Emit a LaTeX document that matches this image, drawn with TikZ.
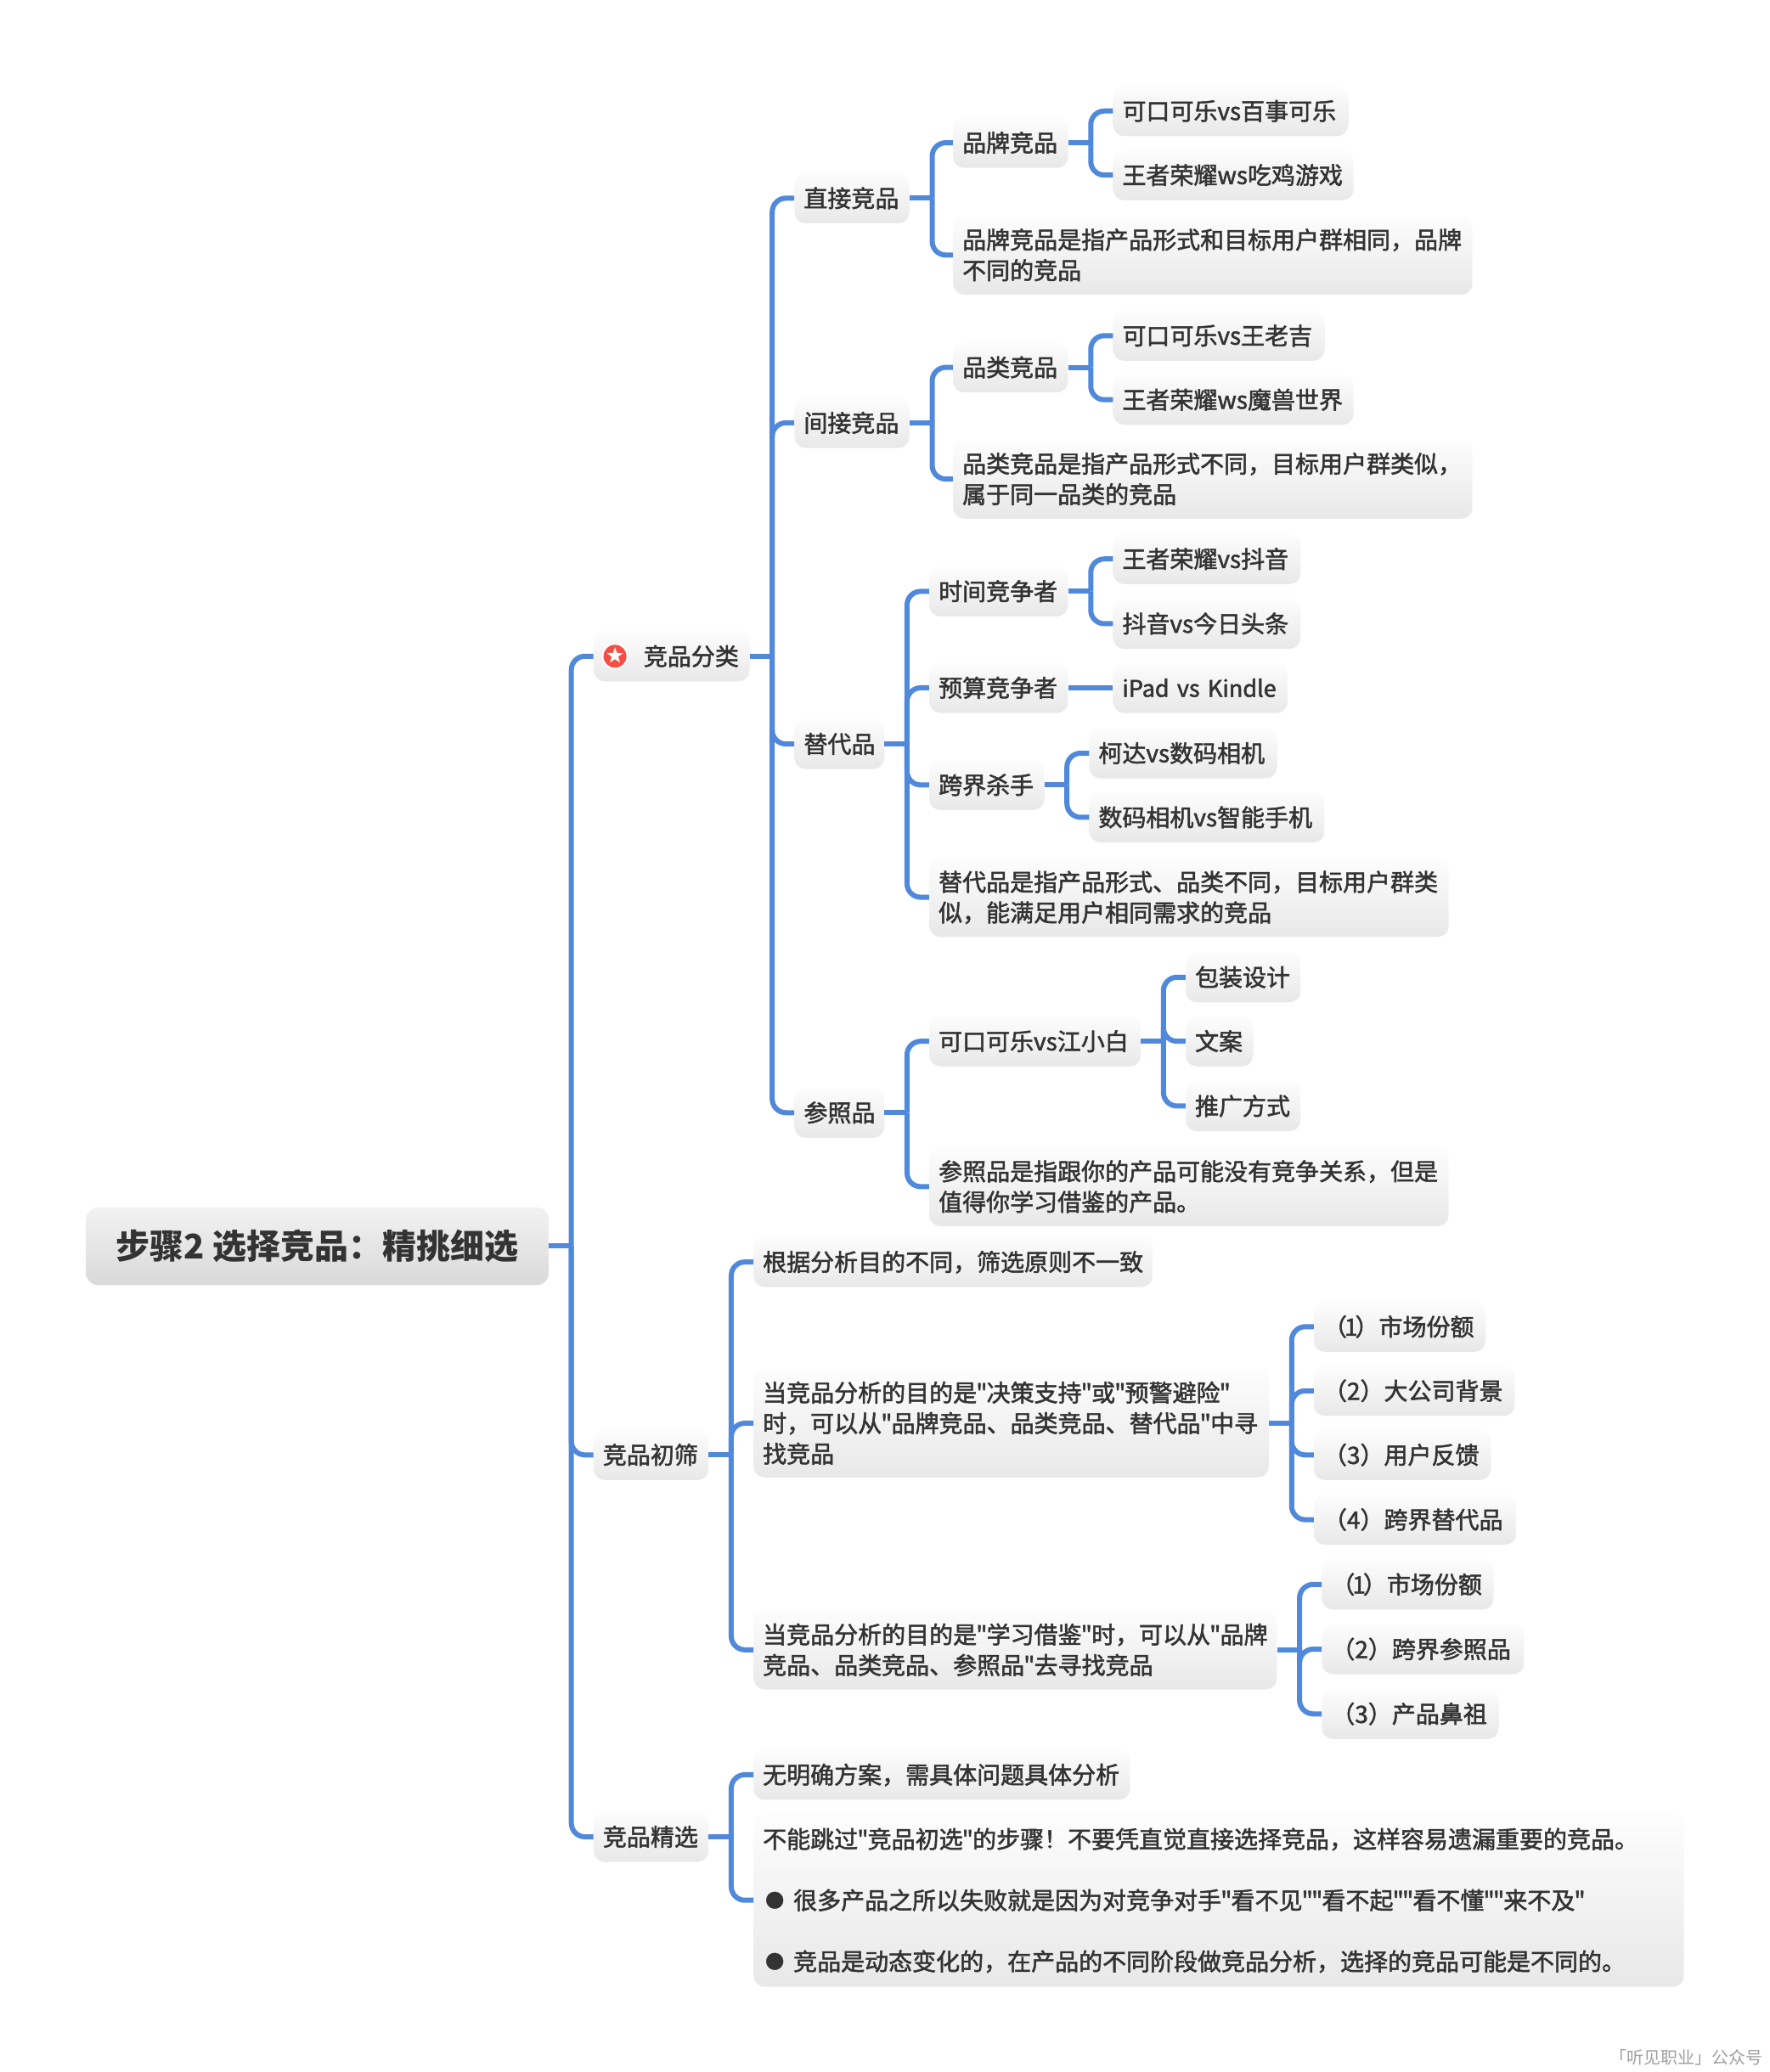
\documentclass[tikz,border=0pt]{standalone}
\usepackage{fontspec}
\usetikzlibrary{shapes.geometric}
\newfontfamily\cjkfont{Noto Sans CJK SC}[FakeBold=1.8]
\newfontfamily\cjkroot{Noto Sans CJK SC}
\newfontfamily\thinfont{Noto Sans CJK SC}
\definecolor{branch}{HTML}{5089DB}
\definecolor{ink}{HTML}{333333}
\definecolor{topshade}{HTML}{FEFDFE}
\definecolor{botshade}{HTML}{E9E8E9}
\definecolor{roottop}{HTML}{F3F2F3}
\definecolor{rootbot}{HTML}{D9D9D9}
\definecolor{iconfill}{HTML}{F44E45}
\newcommand{\lstrut}{\rule[-7.4pt]{0pt}{36pt}}
\newcommand{\qt}{\kern-0.9pt"\kern-0.9pt}
\newcommand{\one}{\kern-3pt1\kern-3pt}
\newcommand{\bul}{\makebox[36pt][l]{\hspace*{3pt}\raisebox{2.2pt}{\fontsize{22}{36}\selectfont ●}}}
\tikzset{
  box/.style={rounded corners=13pt, top color=topshade, bottom color=botshade, draw=none,
    anchor=west, inner xsep=11pt, inner ysep=0pt, align=left, text=ink,
    font=\cjkfont\fontsize{28}{36}\selectfont},
  rootbox/.style={rounded corners=14pt, top color=roottop, bottom color=rootbot, draw=none,
    anchor=west, inner sep=0pt, align=center, text=ink, font=\cjkroot\bfseries\fontsize{40}{48}\selectfont},
  conn/.style={draw=branch, line width=6pt},
  elbow/.style={conn, rounded corners=16pt}
}
% name, left, right, centre y, height (all in reference-shrunk units), text
\newcommand{\mmnode}[6]{%
  \pgfmathsetmacro{\mmw}{(#3-#2)*1.5564-22}%
  \pgfmathsetmacro{\mmh}{#5*1.5564}%
  \node[box, text width=\mmw pt, minimum height=\mmh pt] (#1) at (#2,#4) {\lstrut #6\lstrut};}
\newcommand{\lnk}[2]{%
  \path (#1.east) ++(26.5pt,0) coordinate (bus#1);%
  \draw[conn] (#1.east) -- (bus#1);%
  \draw[elbow] (bus#1) |- (#2.west);}
\begin{document}
\begin{tikzpicture}[x=1.5564pt,y=-1.5564pt]
\useasboundingbox (0,0) rectangle (1339,1568);
\pgfmathsetmacro{\rw}{(415-65)*1.5564}
\pgfmathsetmacro{\rh}{59*1.5564}
\node[rootbox, minimum width=\rw pt, minimum height=\rh pt] (root) at (65,943) {步骤2 选择竞品：精挑细选};

\mmnode{a}{449}{567}{496.6}{38}{\hspace*{48pt}竞品分类}
\mmnode{b}{449}{536}{1101}{38}{竞品初筛}
\mmnode{c}{449}{536}{1390}{38}{竞品精选}
\node[circle, fill=white, inner sep=0pt, minimum size=31pt] (iconring) at (465.3,496.6) {};
\node[circle, fill=iconfill, inner sep=0pt, minimum size=27pt] (iconred) at (465.3,496.6) {};
\node[star, star points=5, star point ratio=2.5, fill=white, inner sep=0pt, minimum size=20pt] (iconstar) at (465.3,496.2) {};

\mmnode{a1}{601}{688}{150}{38}{直接竞品}
\mmnode{a2}{601}{688}{320}{38}{间接竞品}
\mmnode{a3}{601}{669}{563}{38}{替代品}
\mmnode{a4}{601}{669}{842}{38}{参照品}

\mmnode{a11}{721}{808}{108}{38}{品牌竞品}
\mmnode{a111}{842}{1020}{84}{38}{可口可乐vs百事可乐}
\mmnode{a112}{842}{1024}{132.5}{38}{王者荣耀ws吃鸡游戏}
\mmnode{a12}{721}{1114}{193}{60}{品牌竞品是指产品形式和目标用户群相同，品牌\\不同的竞品}

\mmnode{a21}{721}{808}{278}{38}{品类竞品}
\mmnode{a211}{842}{1002}{254}{38}{可口可乐vs王老吉}
\mmnode{a212}{842}{1024}{302.5}{38}{王者荣耀ws魔兽世界}
\mmnode{a22}{721}{1114}{362.5}{60}{品类竞品是指产品形式不同，目标用户群类似，\\属于同一品类的竞品}

\mmnode{a31}{703}{808}{447.5}{38}{时间竞争者}
\mmnode{a311}{842}{984}{423}{38}{王者荣耀vs抖音}
\mmnode{a312}{842}{984}{472}{38}{抖音vs今日头条}
\mmnode{a32}{703}{808}{520.5}{38}{预算竞争者}
\mmnode{a321}{842}{974}{520.5}{38}{\mbox{\fontsize{27}{36}\selectfont iPad vs Kindle}}
\mmnode{a33}{703}{790}{594}{38}{跨界杀手}
\mmnode{a331}{824}{966}{570}{38}{柯达vs数码相机}
\mmnode{a332}{824}{1002}{618.5}{38}{数码相机vs智能手机}
\mmnode{a34}{703}{1096}{679}{60}{替代品是指产品形式、品类不同，目标用户群类\\似，能满足用户相同需求的竞品}

\mmnode{a41}{703}{863}{788}{38}{可口可乐vs江小白}
\mmnode{a411}{897}{984}{739.5}{38}{包装设计}
\mmnode{a412}{897}{948}{788}{38}{文案}
\mmnode{a413}{897}{984}{837}{38}{推广方式}
\mmnode{a42}{703}{1096}{898}{60}{参照品是指跟你的产品可能没有竞争关系，但是\\值得你学习借鉴的产品。}

\mmnode{b1}{570}{872}{955}{38}{根据分析目的不同，筛选原则不一致}
\mmnode{b2}{570}{960}{1077}{82}{当竞品分析的目的是\qt 决策支持\qt 或\qt 预警避险\qt \\时，可以从\qt 品牌竞品、品类竞品、替代品\qt 中寻\\找竞品}
\mmnode{b21}{994}{1124}{1004}{38}{（\one）市场份额}
\mmnode{b22}{994}{1146}{1052.5}{38}{（2）大公司背景}
\mmnode{b23}{994}{1128}{1101}{38}{（3）用户反馈}
\mmnode{b24}{994}{1147}{1150}{38}{（4）跨界替代品}
\mmnode{b3}{570}{966}{1248.5}{60}{当竞品分析的目的是\qt 学习借鉴\qt 时，可以从\qt 品牌\\竞品、品类竞品、参照品\qt 去寻找竞品}
\mmnode{b31}{1000}{1130}{1199}{38}{（\one）市场份额}
\mmnode{b32}{1000}{1153}{1248}{38}{（2）跨界参照品}
\mmnode{b33}{1000}{1134}{1297}{38}{（3）产品鼻祖}

\mmnode{c1}{570}{855}{1343}{38}{无明确方案，需具体问题具体分析}
\mmnode{c2}{570}{1274}{1438}{131}{不能跳过\qt 竞品初选\qt 的步骤！不要凭直觉直接选择竞品，这样容易遗漏重要的竞品。\\[36pt]\bul 很多产品之所以失败就是因为对竞争对手\qt 看不见\qt\qt 看不起\qt\qt 看不懂\qt\qt 来不及\qt \\[36pt]\bul 竞品是动态变化的，在产品的不同阶段做竞品分析，选择的竞品可能是不同的。}

\node[anchor=east, inner sep=0pt, text=black!38, font=\thinfont\fontsize{20}{24}\selectfont] (mark) at (1334,1556.8) {「听见职业」公众号};

\lnk{root}{a}\lnk{root}{b}\lnk{root}{c}
\lnk{a}{a1}\lnk{a}{a2}\lnk{a}{a3}\lnk{a}{a4}
\lnk{a1}{a11}\lnk{a1}{a12}
\lnk{a11}{a111}\lnk{a11}{a112}
\lnk{a2}{a21}\lnk{a2}{a22}
\lnk{a21}{a211}\lnk{a21}{a212}
\lnk{a3}{a31}\lnk{a3}{a32}\lnk{a3}{a33}\lnk{a3}{a34}
\lnk{a31}{a311}\lnk{a31}{a312}
\draw[conn] (a32.east) -- (a321.west);
\lnk{a33}{a331}\lnk{a33}{a332}
\lnk{a4}{a41}\lnk{a4}{a42}
\lnk{a41}{a411}\lnk{a41}{a412}\lnk{a41}{a413}
\lnk{b}{b1}\lnk{b}{b2}\lnk{b}{b3}
\lnk{b2}{b21}\lnk{b2}{b22}\lnk{b2}{b23}\lnk{b2}{b24}
\lnk{b3}{b31}\lnk{b3}{b32}\lnk{b3}{b33}
\lnk{c}{c1}\lnk{c}{c2}
\end{tikzpicture}
\end{document}
